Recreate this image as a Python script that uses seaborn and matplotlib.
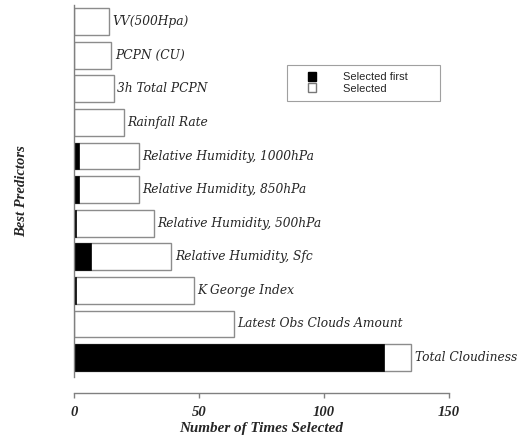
import matplotlib
matplotlib.use('Agg')
import matplotlib.pyplot as plt
from matplotlib.patches import Patch, Rectangle
from matplotlib.legend_handler import HandlerPatch
import seaborn as sns
import pandas as pd

predictors = ['VV(500Hpa)', 'PCPN (CU)', '3h Total PCPN', 'Rainfall Rate',
              'Relative Humidity, 1000hPa', 'Relative Humidity, 850hPa',
              'Relative Humidity, 500hPa', 'Relative Humidity, Sfc',
              'K George Index', 'Latest Obs Clouds Amount', 'Total Cloudiness']
selected = [14, 15, 16, 20, 26, 26, 32, 39, 48, 64, 135]
selected_first = [0, 0, 0, 0, 2, 2, 1, 7, 1, 0, 124]

df = pd.DataFrame({'Predictor': predictors, 'Selected': selected,
                   'First': selected_first})

sns.set_style('white')
fig = plt.figure(figsize=(5.2, 4.4), dpi=100)
ax = fig.add_axes([0.142, 0.143, 0.721, 0.846])

sns.barplot(data=df, x='Selected', y='Predictor', orient='h', color='white',
            edgecolor='#8c8c8c', linewidth=1.0, width=0.8, ax=ax)
sns.barplot(data=df, x='First', y='Predictor', orient='h', color='black',
            edgecolor='black', linewidth=0.5, width=0.8, ax=ax)
for p in ax.patches:
    if p.get_width() == 0:
        p.set_visible(False)

for i, (name, val) in enumerate(zip(predictors, selected)):
    ax.annotate(name, xy=(val, i), xytext=(2.5, 0), textcoords='offset points',
                ha='left', va='center', fontsize=8.8, fontstyle='italic',
                family='DejaVu Serif', annotation_clip=False)

# spine position first: it resets the ticks
sns.despine(ax=ax, top=True, right=True)
ax.spines['bottom'].set_position(('outward', 11.5))
for s in ['left', 'bottom']:
    ax.spines[s].set_color('#808080')
    ax.spines[s].set_linewidth(1.0)

ax.set_xlim(0, 150)
ax.set_ylim(10.58, -0.5)
ax.set_yticks([])
ax.set_xticks([0, 50, 100, 150])
ax.set_xticklabels(['0', '50', '100', '150'], fontsize=10.5, fontweight='bold',
                   fontstyle='italic', family='Liberation Serif')
ax.tick_params(axis='x', bottom=True, direction='out', length=3.5, width=1,
               color='#808080', pad=6)

ax.set_xlabel('Number of Times Selected', fontsize=10.9, fontweight='bold',
              fontstyle='italic', family='Liberation Serif', labelpad=2)
ax.set_ylabel('Best Predictors', fontsize=10.5, fontweight='bold',
              fontstyle='italic', family='Liberation Serif', labelpad=33)


def small_square(legend, orig_handle, xdescent, ydescent, width, height, fontsize):
    s = 0.8 * fontsize
    return Rectangle((-xdescent + width - s, -ydescent + (height - s) / 2), s, s)


handles = [Patch(facecolor='black', edgecolor='black', label='Selected first'),
           Patch(facecolor='white', edgecolor='#777777', label='Selected')]
labels = ['Selected first        ', 'Selected        ']
leg = fig.legend(handles=handles, labels=labels, loc='upper left',
                 bbox_to_anchor=(287 / 520, 1 - 65 / 440),
                 prop={'family': 'Liberation Sans', 'size': 8},
                 frameon=True, fancybox=False, edgecolor='#888888',
                 handler_map={Patch: HandlerPatch(patch_func=small_square)},
                 handlelength=2.0, handleheight=0.8, handletextpad=2.4,
                 borderpad=0.65, labelspacing=0.1, borderaxespad=0)
leg.get_frame().set_linewidth(0.8)

fig.savefig('out.png', dpi=100)
